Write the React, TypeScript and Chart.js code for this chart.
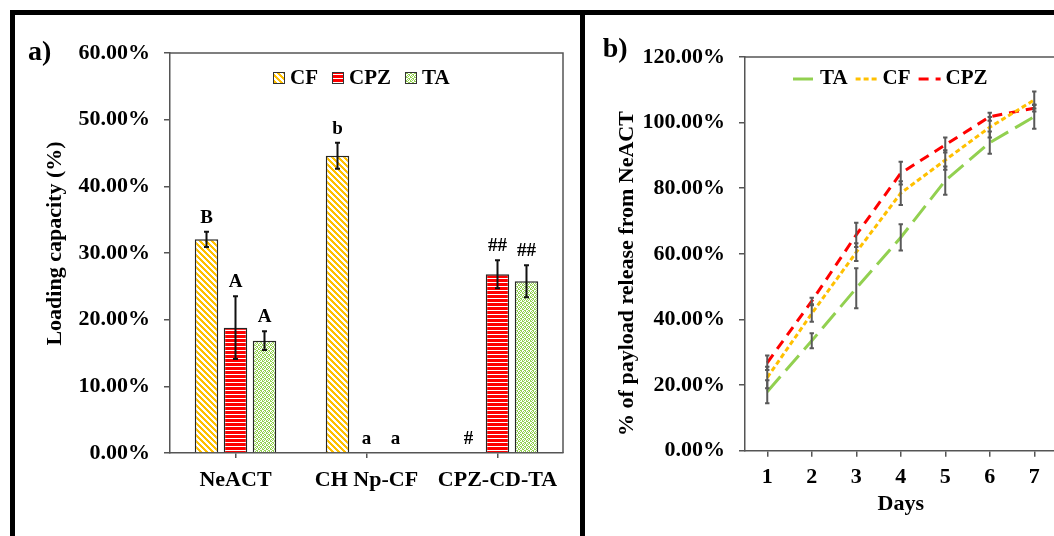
import React, { useEffect, useRef } from 'react';
import { Chart, registerables } from 'chart.js';

Chart.register(...registerables);

const FONT = "'Liberation Serif', 'Times New Roman', serif";
const AXIS = '#555555';
const ORANGE = '#FFC000';
const RED = '#FF0000';
const GREEN = '#92D050';

// ---------- Panel a data ----------
const groups = ['NeACT', 'CH Np-CF', 'CPZ-CD-TA'];
const seriesA = ['CF', 'CPZ', 'TA'];
const cfLoad = [32.05, 44.6, 0];
const cfLoadErr = [1.15, 1.95, 0];
const cpzLoad = [18.8, 0, 26.8];
const cpzLoadErr = [4.7, 0, 2.1];
const taLoad = [16.85, 0, 25.75];
const taLoadErr = [1.4, 0, 2.4];
const cfMarks = ['B', 'b', '#'];
const cpzMarks = ['A', 'a', '##'];
const taMarks = ['A', 'a', '##'];
const loadTicks = [0, 10, 20, 30, 40, 50, 60];

// ---------- Panel b data ----------
const days = ['1', '2', '3', '4', '5', '6', '7'];
const seriesB = ['TA', 'CF', 'CPZ'];
const taRelease = [18.0, 33.5, 49.5, 65.0, 82.3, 93.9, 101.8];
const taReleaseErr = [3.5, 2.3, 6.1, 4.0, 4.3, 3.4, 3.7];
const cfRelease = [22.3, 41.8, 60.5, 78.5, 88.6, 98.6, 106.9];
const cfReleaseErr = [3.3, 2.5, 2.7, 3.6, 3.0, 3.1, 2.6];
const cpzRelease = [26.8, 45.6, 65.8, 84.6, 93.2, 101.8, 104.4];
const cpzReleaseErr = [2.2, 1.0, 3.7, 3.5, 2.3, 1.2, 1.0];
const releaseTicks = [0, 20, 40, 60, 80, 100, 120];

const pct = (v: any) => Number(v).toFixed(2) + '%';

function makePattern(ctx: CanvasRenderingContext2D, kind: string): CanvasPattern {
  const c = document.createElement('canvas');
  const w = kind === 'cpz' ? 4 : 6;
  const h = kind === 'cpz' ? 4 : kind === 'ta' ? 4 : 6;
  const tw = kind === 'ta' ? 4 : w;
  c.width = tw;
  c.height = h;
  const g = c.getContext('2d') as CanvasRenderingContext2D;
  g.fillStyle = '#ffffff';
  g.fillRect(0, 0, tw, h);
  if (kind === 'cf') {
    g.fillStyle = ORANGE;
    for (let y = 0; y < h; y++) {
      for (let x = 0; x < tw; x++) {
        if ((((x - y) % 6) + 6) % 6 < 3) g.fillRect(x, y, 1, 1);
      }
    }
  } else if (kind === 'cpz') {
    g.fillStyle = RED;
    g.fillRect(0, 0, tw, 3);
  } else {
    g.fillStyle = GREEN;
    const pts = [[0, 0], [2, 0], [1, 1], [3, 1], [0, 2], [3, 2], [1, 3], [2, 3]];
    pts.forEach(([x, y]) => g.fillRect(x, y, 1, 1));
  }
  return ctx.createPattern(c, 'repeat') as CanvasPattern;
}

function drawRotated(ctx: CanvasRenderingContext2D, text: string, x: number, y: number, size: number) {
  ctx.save();
  ctx.translate(x, y);
  ctx.rotate(-Math.PI / 2);
  ctx.font = `bold ${size}px ${FONT}`;
  ctx.fillStyle = '#000';
  ctx.textAlign = 'center';
  ctx.textBaseline = 'alphabetic';
  ctx.fillText(text, 0, 0);
  ctx.restore();
}

function drawOutline(chart: any) {
  const { ctx, chartArea } = chart;
  ctx.save();
  ctx.strokeStyle = AXIS;
  ctx.lineWidth = 1.5;
  ctx.beginPath();
  ctx.moveTo(chartArea.left, chartArea.top);
  ctx.lineTo(chartArea.right, chartArea.top);
  ctx.lineTo(chartArea.right, chartArea.bottom);
  ctx.stroke();
  ctx.restore();
}

function drawErr(ctx: CanvasRenderingContext2D, x: number, yLo: number, yHi: number, color: string, cap: number, lw: number) {
  ctx.save();
  ctx.strokeStyle = color;
  ctx.lineWidth = lw;
  ctx.setLineDash([]);
  ctx.beginPath();
  ctx.moveTo(x, yLo);
  ctx.lineTo(x, yHi);
  ctx.moveTo(x - cap, yLo);
  ctx.lineTo(x + cap, yLo);
  ctx.moveTo(x - cap, yHi);
  ctx.lineTo(x + cap, yHi);
  ctx.stroke();
  ctx.restore();
}

const tickFont = { family: FONT, size: 22, weight: 'bold' as const };

function BarPanel() {
  const ref = useRef<HTMLCanvasElement>(null);
  useEffect(() => {
    const canvas = ref.current as HTMLCanvasElement;
    const ctx0 = canvas.getContext('2d') as CanvasRenderingContext2D;
    const pats = [makePattern(ctx0, 'cf'), makePattern(ctx0, 'cpz'), makePattern(ctx0, 'ta')];
    const vals = [cfLoad, cpzLoad, taLoad];
    const errs = [cfLoadErr, cpzLoadErr, taLoadErr];
    const marks = [cfMarks, cpzMarks, taMarks];

    const decor = {
      id: 'decorA',
      afterDatasetsDraw(chart: any) {
        const ctx = chart.ctx;
        const ys = chart.scales.y;
        vals.forEach((arr, i) => {
          const meta = chart.getDatasetMeta(i);
          meta.data.forEach((el: any, j: number) => {
            const v = arr[j];
            const e = errs[i][j];
            if (e > 0) drawErr(ctx, el.x, ys.getPixelForValue(v - e), ys.getPixelForValue(v + e), '#111', 2.5, 2);
            ctx.save();
            ctx.font = `bold 19px ${FONT}`;
            ctx.fillStyle = '#000';
            ctx.textAlign = 'center';
            ctx.textBaseline = 'alphabetic';
            ctx.fillText(marks[i][j], el.x, ys.getPixelForValue(v + e) - 9);
            ctx.restore();
          });
        });
      },
      afterDraw(chart: any) {
        const ctx = chart.ctx;
        drawOutline(chart);
        // legend
        ctx.save();
        ctx.font = `bold 21px ${FONT}`;
        ctx.textBaseline = 'middle';
        ctx.textAlign = 'left';
        let x = 258;
        const cy = 63;
        seriesA.forEach((name, i) => {
          ctx.fillStyle = pats[i];
          ctx.fillRect(x, cy - 6, 12, 12);
          ctx.strokeStyle = '#333';
          ctx.lineWidth = 1;
          ctx.strokeRect(x + 0.5, cy - 5.5, 11, 11);
          ctx.fillStyle = '#000';
          ctx.fillText(name, x + 17, cy + 1);
          x += 17 + ctx.measureText(name).width + 14;
        });
        ctx.restore();
        // panel label
        ctx.save();
        ctx.font = `bold 28px ${FONT}`;
        ctx.fillStyle = '#000';
        ctx.textBaseline = 'middle';
        ctx.textAlign = 'left';
        ctx.fillText('a)', 13, 38);
        ctx.restore();
        drawRotated(ctx, 'Loading capacity (%)', 45.7, 228.5, 22);
      },
    };

    const chart = new Chart(canvas, {
      type: 'bar',
      data: {
        labels: groups,
        datasets: seriesA.map((name, i) => ({
          label: name,
          data: vals[i],
          backgroundColor: pats[i],
          borderColor: '#262626',
          borderWidth: 1.5,
          categoryPercentage: 0.664,
          barPercentage: 0.81,
        })),
      },
      options: {
        responsive: false,
        animation: false,
        layout: { padding: { top: 38, right: 17, left: 0, bottom: 0 } },
        plugins: { legend: { display: false }, tooltip: { enabled: false } },
        scales: {
          x: {
            grid: { display: true, drawOnChartArea: false, drawTicks: true, tickLength: 5, offset: false, color: AXIS, lineWidth: 1.5 },
            border: { display: true, color: AXIS, width: 1.5 },
            ticks: { font: tickFont, color: '#000', padding: 9, maxRotation: 0, autoSkip: false },
            afterFit: (s: any) => { s.height = 83; },
          },
          y: {
            min: 0,
            max: 60,
            afterBuildTicks: (s: any) => { s.ticks = loadTicks.map((v) => ({ value: v })); },
            grid: { display: true, drawOnChartArea: false, drawTicks: true, tickLength: 6, color: AXIS, lineWidth: 1.5 },
            border: { display: true, color: AXIS, width: 1.5 },
            ticks: { font: tickFont, color: '#000', padding: 14, callback: pct },
            afterFit: (s: any) => { s.width = 155; },
          },
        },
      },
      plugins: [decor],
    } as any);
    return () => chart.destroy();
  }, []);
  return <canvas ref={ref} width={565} height={521} style={{ width: 565, height: 521, display: 'block' }} />;
}

function LinePanel() {
  const ref = useRef<HTMLCanvasElement>(null);
  useEffect(() => {
    const canvas = ref.current as HTMLCanvasElement;
    const vals = [taRelease, cfRelease, cpzRelease];
    const errs = [taReleaseErr, cfReleaseErr, cpzReleaseErr];
    const colors = [GREEN, ORANGE, RED];
    const dashes = [[20, 8], [5, 3], [10, 7]];

    const decor = {
      id: 'decorB',
      afterDatasetsDraw(chart: any) {
        const ctx = chart.ctx;
        const ys = chart.scales.y;
        const xs = chart.scales.x;
        vals.forEach((arr, i) => {
          arr.forEach((v, j) => {
            const e = errs[i][j];
            const x = xs.getPixelForValue(j);
            drawErr(ctx, x, ys.getPixelForValue(v - e), ys.getPixelForValue(v + e), '#595959', 2.2, 2);
          });
        });
      },
      afterDraw(chart: any) {
        const ctx = chart.ctx;
        drawOutline(chart);
        // legend
        ctx.save();
        ctx.font = `bold 21px ${FONT}`;
        ctx.textBaseline = 'middle';
        ctx.textAlign = 'left';
        let x = 208;
        const cy = 64;
        seriesB.forEach((name, i) => {
          ctx.strokeStyle = colors[i];
          ctx.lineWidth = 3;
          ctx.setLineDash(dashes[i]);
          ctx.beginPath();
          ctx.moveTo(x, cy);
          ctx.lineTo(x + 22, cy);
          ctx.stroke();
          ctx.setLineDash([]);
          ctx.fillStyle = '#000';
          ctx.fillText(name, x + 27, cy);
          x += 27 + ctx.measureText(name).width + 8;
        });
        ctx.restore();
        ctx.save();
        ctx.font = `bold 28px ${FONT}`;
        ctx.fillStyle = '#000';
        ctx.textBaseline = 'middle';
        ctx.textAlign = 'left';
        ctx.fillText('b)', 17.7, 35);
        ctx.restore();
        drawRotated(ctx, '% of payload release from NeACT', 48.3, 258.5, 22);
      },
    };

    const chart = new Chart(canvas, {
      type: 'line',
      data: {
        labels: days,
        datasets: seriesB.map((name, i) => ({
          label: name,
          data: vals[i],
          borderColor: colors[i],
          backgroundColor: colors[i],
          borderDash: dashes[i],
          borderWidth: 3,
          pointRadius: 0,
          fill: false,
          tension: 0,
        })),
      },
      options: {
        responsive: false,
        animation: false,
        layout: { padding: { top: 42, right: 18.5, left: 0, bottom: 0 } },
        plugins: { legend: { display: false }, tooltip: { enabled: false } },
        scales: {
          x: {
            offset: true,
            grid: { display: true, drawOnChartArea: false, drawTicks: true, tickLength: 6, offset: false, color: AXIS, lineWidth: 1.5 },
            border: { display: true, color: AXIS, width: 1.5 },
            ticks: { font: tickFont, color: '#000', padding: 7, maxRotation: 0, autoSkip: false },
            title: { display: true, text: 'Days', font: tickFont, color: '#000', padding: { top: 0, bottom: 18 } },
            afterFit: (s: any) => { s.height = 85.3; },
          },
          y: {
            min: 0,
            max: 120,
            afterBuildTicks: (s: any) => { s.ticks = releaseTicks.map((v) => ({ value: v })); },
            grid: { display: true, drawOnChartArea: false, drawTicks: true, tickLength: 6, color: AXIS, lineWidth: 1.5 },
            border: { display: true, color: AXIS, width: 1.5 },
            ticks: { font: tickFont, color: '#000', padding: 14, callback: pct },
            afterFit: (s: any) => { s.width = 160; },
          },
        },
      },
      plugins: [decor],
    } as any);
    return () => chart.destroy();
  }, []);
  return <canvas ref={ref} width={490} height={521} style={{ width: 490, height: 521, display: 'block' }} />;
}

export default function App() {
  useEffect(() => {
    document.body.style.margin = '0';
  }, []);
  return (
    <div style={{ position: 'fixed', left: 0, top: 0, width: 1054, height: 536, overflow: 'hidden', background: '#fff' }}>
      <div style={{ position: 'absolute', left: 10, top: 10, width: 1100, height: 5, background: '#000' }} />
      <div style={{ position: 'absolute', left: 10, top: 10, width: 5, height: 600, background: '#000' }} />
      <div style={{ position: 'absolute', left: 580, top: 10, width: 5, height: 600, background: '#000' }} />
      <div style={{ position: 'absolute', left: 15, top: 15, width: 565, height: 521 }}>
        <BarPanel />
      </div>
      <div style={{ position: 'absolute', left: 585, top: 15, width: 490, height: 521 }}>
        <LinePanel />
      </div>
    </div>
  );
}
